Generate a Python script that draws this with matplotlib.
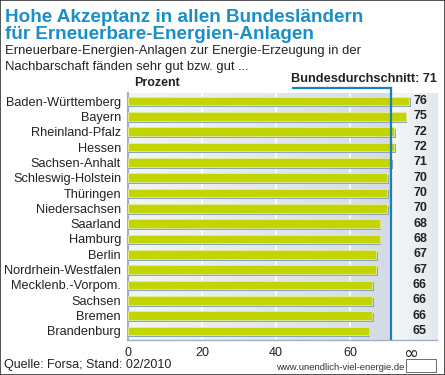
import numpy as np
import matplotlib.pyplot as plt
from matplotlib.patches import Rectangle
from matplotlib.colors import LinearSegmentedColormap

# data
laender = ["Baden-Württemberg", "Bayern", "Rheinland-Pfalz", "Hessen",
           "Sachsen-Anhalt", "Schleswig-Holstein", "Thüringen", "Niedersachsen",
           "Saarland", "Hamburg", "Berlin", "Nordrhein-Westfalen",
           "Mecklenb.-Vorpom.", "Sachsen", "Bremen", "Brandenburg"]
werte = [76, 75, 72, 72, 71, 70, 70, 70, 68, 68, 67, 67, 66, 66, 66, 65]
durchschnitt = 71
xticks = [0, 20, 40, 60]

W, H = 445, 375
narrow = ['Liberation Sans', 'DejaVu Sans']
blue = '#1b8fc7'
green = '#c3d500'
shadow = '#8da2be'
dark = '#222222'

fig = plt.figure(figsize=(W / 100, H / 100), dpi=100)
fig.patch.set_facecolor('white')

# plot area in pixel coords
x0, x1, ytop, ybot = 128, 437, 93, 340
ax = fig.add_axes([x0 / W, 1 - ybot / H, (x1 - x0) / W, (ybot - ytop) / H])
xmax = (x1 - x0) / 3.7
n = len(werte)
yb, yt = n - 1 + 9 / 15.33, -8 / 15.33
ax.set_xlim(0, xmax)
ax.set_ylim(yb, yt)

# background: grey-blue gradient left of the average line, pale right of it
grad = np.linspace(0, 1, 256).reshape(1, -1)
cm = LinearSegmentedColormap.from_list('bg', ['#f2f5f8', '#d3dce6'])
ax.imshow(grad, extent=[0, durchschnitt, yb, yt], aspect='auto', cmap=cm, zorder=0)
cm2 = LinearSegmentedColormap.from_list('bg2', ['#f6f8fa', '#e2e8ee'])
ax.imshow(grad, extent=[durchschnitt, xmax, yb, yt], aspect='auto', cmap=cm2, zorder=0)

for t in xticks[1:]:
    ax.axvline(t, color='white', lw=1.2, zorder=1)

y = np.arange(n)
# shadow then bar
ax.barh(y + 0.12, np.array(werte) + 0.5, height=0.58, left=0,
        color=shadow, zorder=2)
ax.barh(y, werte, height=0.58, color=green, edgecolor='#e6ee9a',
        linewidth=0.6, zorder=3)

for yi, v in zip(y, werte):
    ax.text(80.8, yi, str(v), ha='right', va='center', fontsize=9,
            fontweight='bold', color=dark, family=narrow, zorder=5)

ax.axvline(durchschnitt, color='#1a80b8', lw=1.6, zorder=4)

ax.set_yticks(y)
ax.set_yticklabels(laender, family=narrow, fontsize=9.2, color=dark)
ax.set_xticks(xticks)
ax.set_xticklabels([str(t) for t in xticks], family=narrow, fontsize=9, color=dark)
ax.tick_params(length=0, pad=5)
for s in ['top', 'right']:
    ax.spines[s].set_visible(False)
ax.spines['left'].set_color('#9fb0c4')
ax.spines['left'].set_linewidth(1.5)
ax.spines['bottom'].set_color('#9fb0c4')
ax.spines['bottom'].set_linewidth(1)

# titles
fig.text(5 / W, 1 - 22 / H, "Hohe Akzeptanz in allen Bundesländern",
         ha='left', va='baseline', fontsize=13.6, fontweight='bold', color=blue,
         family=['Liberation Sans', 'DejaVu Sans'])
fig.text(5 / W, 1 - 39 / H, "für Erneuerbare-Energien-Anlagen",
         ha='left', va='baseline', fontsize=13.6, fontweight='bold', color=blue,
         family=['Liberation Sans', 'DejaVu Sans'])
fig.text(5 / W, 1 - 54 / H, "Erneuerbare-Energien-Anlagen zur Energie-Erzeugung in der",
         ha='left', va='baseline', fontsize=9.4, color=dark, family=narrow)
fig.text(5 / W, 1 - 70 / H, "Nachbarschaft fänden sehr gut bzw. gut ...",
         ha='left', va='baseline', fontsize=9.4, color=dark, family=narrow)
fig.text(134 / W, 1 - 86 / H, "Prozent", ha='left', va='baseline', fontsize=9,
         fontweight='bold', color=dark, family=narrow)
fig.text(291 / W, 1 - 82 / H, "Bundesdurchschnitt: 71", ha='left', va='baseline',
         fontsize=9.2, fontweight='bold', color=dark, family=narrow)
# underline joining the average line
fig.add_artist(plt.Line2D([293 / W, 390.5 / W], [1 - 88 / H, 1 - 88 / H],
                          color='#1a80b8', lw=1.6))
fig.add_artist(plt.Line2D([390.5 / W, 390.5 / W], [1 - 88 / H, 1 - ytop / H],
                          color='#1a80b8', lw=1.6))

# footer
fig.text(4 / W, 1 - 368 / H, "Quelle: Forsa; Stand: 02/2010", ha='left', va='baseline',
         fontsize=9, color=dark, family=narrow)
fig.text(404 / W, 1 - 370 / H, "www.unendlich-viel-energie.de", ha='right', va='baseline',
         fontsize=6.8, color='#333333', family=narrow)
fig.text(411 / W, 1 - 354 / H, "∞", ha='center', va='center', fontsize=13, color='#222222')
fig.add_artist(Rectangle((406 / W, 1 - 372 / H), 30 / W, 13 / H, fill=False,
                         edgecolor='#555555', lw=0.6))

# thin frame around the picture
fig.add_artist(Rectangle((0, 0), 1, 1, fill=False, edgecolor='#333333', lw=1.2,
                         transform=fig.transFigure))

fig.savefig('out.png', dpi=100)
